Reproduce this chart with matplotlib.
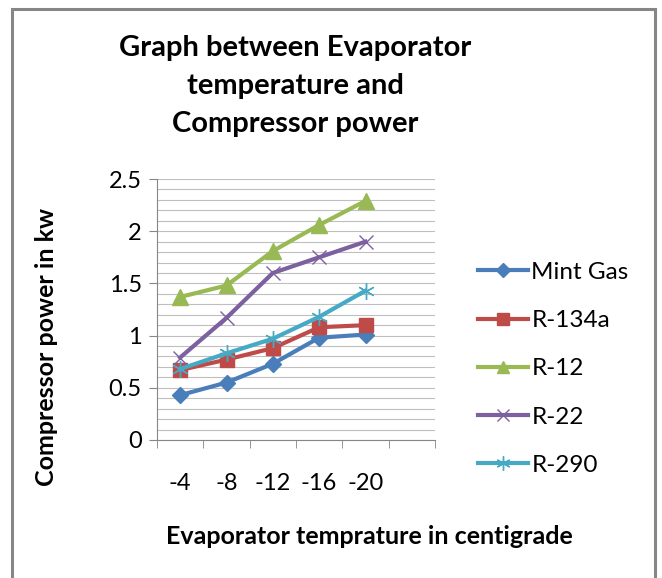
import matplotlib.pyplot as plt
import matplotlib.patches as patches
import numpy as np

#____________________________________________________________________________________________________
# data
categories = ['-4', '-8', '-12', '-16', '-20']
mint_gas = [0.43, 0.55, 0.73, 0.98, 1.01]
r134a = [0.67, 0.77, 0.88, 1.08, 1.10]
r12 = [1.37, 1.48, 1.81, 2.06, 2.29]
r22 = [0.79, 1.17, 1.60, 1.75, 1.90]
r290 = [0.68, 0.83, 0.97, 1.18, 1.43]

series_names = ['Mint Gas', 'R-134a', 'R-12', 'R-22', 'R-290']


#____________________________________________________________________________________________________
# plot
def main():
    plt.rcParams['font.family'] = ['Lato', 'DejaVu Sans']
    fig = plt.figure(figsize=(6.62, 5.78), dpi=100)
    ax = fig.add_axes([157/662, 1-440/578, (435-157)/662, (440-179)/578])

    x = np.arange(len(categories))
    styles = [
        dict(color='#4A7EBB', marker='D', markersize=8),
        dict(color='#BE4B48', marker='s', markersize=10),
        dict(color='#98B954', marker='^', markersize=11),
        dict(color='#7D60A0', marker='x', markersize=10, markeredgewidth=1.0),
        dict(color='#46AAC5', marker=(6, 2, 0), markersize=12, markeredgewidth=1.0),
    ]
    all_series = [mint_gas, r134a, r12, r22, r290]
    for vals, name, st in zip(all_series, series_names, styles):
        ax.plot(x, vals, lw=3, label=name, **st)

    ax.set_xlim(-0.5, 5.5)
    ax.set_ylim(0, 2.5)
    ax.set_yticks(np.arange(0, 2.51, 0.5))
    ax.set_yticklabels(['0', '0.5', '1', '1.5', '2', '2.5'])
    ax.set_yticks(np.arange(0, 2.51, 0.1), minor=True)
    ax.set_xticks(x)
    ax.set_xticklabels(categories)
    ax.set_xticks(np.arange(-0.5, 5.6, 1), minor=True)
    ax.tick_params(axis='x', which='major', length=0, pad=24, labelsize=17)
    ax.tick_params(axis='x', which='minor', length=6, color='#868686', direction='out')
    ax.tick_params(axis='y', which='major', length=6, color='#868686', labelsize=17, pad=5)
    ax.tick_params(axis='y', which='minor', length=0)
    ax.yaxis.grid(True, which='both', color='#BFBFBF', lw=0.8)
    ax.set_axisbelow(True)
    for s in ['top', 'right']:
        ax.spines[s].set_visible(False)
    for s in ['left', 'bottom']:
        ax.spines[s].set_color('#868686')

    fig.text(295/662, 1-86/578, 'Graph between Evaporator\ntemperature and\nCompressor power',
             ha='center', va='center', fontsize=21, fontweight='bold', linespacing=1.55)
    fig.text(47/662, 1-347/578, 'Compressor power in kw', rotation=90,
             ha='center', va='center', fontsize=18, fontweight='bold')
    fig.text(369/662, 1-536/578, 'Evaporator temprature in centigrade',
             ha='center', va='center', fontsize=18, fontweight='bold')

    fig.legend(loc='upper left', bbox_to_anchor=(456/662, 1-240/578), frameon=False,
               fontsize=17.5, handlelength=2.05, handletextpad=0.15, labelspacing=1.12,
               markerscale=0.85)

    rect = patches.Rectangle((12/662, -0.05), (655-12)/662, 1.05-9/578, transform=fig.transFigure,
                             fill=False, edgecolor='#868686', lw=2.2)
    fig.patches.append(rect)

    fig.savefig('out.png', dpi=100, facecolor='white')


if __name__ == "__main__":
    main()
